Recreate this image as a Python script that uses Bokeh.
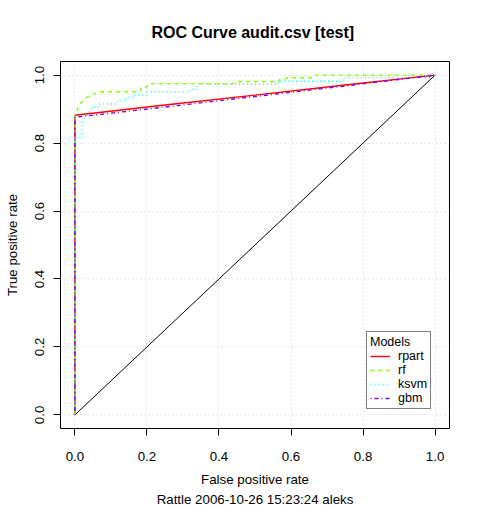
import math
from bokeh.plotting import figure
from bokeh.models import FixedTicker, PrintfTickFormatter, Legend, LegendItem, Range1d, Title
from bokeh.embed import file_html
from bokeh.resources import INLINE

title_text = "ROC Curve  audit.csv [test]"
x_label = "False positive rate"
sub_label = "Rattle 2006-10-26 15:23:24 aleks"
y_label = "True positive rate"
ticks = [0.0, 0.2, 0.4, 0.6, 0.8, 1.0]
models = ["rpart", "rf", "ksvm", "gbm"]

diag_x = [0.0, 1.0]
diag_y = [0.0, 1.0]

rpart_fpr = [0.0, 0.0, 0.25, 0.50, 0.75, 1.0]
rpart_tpr = [0.0, 0.882, 0.912, 0.941, 0.971, 1.0]

gbm_fpr = [0.0, 0.0, 0.25, 0.50, 0.75, 1.0]
gbm_tpr = [0.0, 0.876, 0.906, 0.937, 0.968, 1.0]

rf_fpr = [0.0, 0.0, 0.008, 0.018, 0.032, 0.045, 0.067, 0.180, 0.185, 0.200, 0.205,
          0.440, 0.445, 0.565, 0.570, 0.585, 0.590, 0.655, 0.660, 1.0]
rf_tpr = [0.0, 0.880, 0.900, 0.919, 0.934, 0.941, 0.951, 0.951, 0.965, 0.965, 0.975,
          0.975, 0.981, 0.981, 0.989, 0.989, 0.992, 0.992, 1.0, 1.0]

ksvm_fpr = [0.0, 0.0, 0.020, 0.020, 0.036, 0.048, 0.069, 0.069, 0.118, 0.118, 0.143,
            0.143, 0.162, 0.162, 0.200, 0.200, 0.320, 0.320, 0.340, 0.340, 0.565,
            0.565, 0.746, 0.746, 1.0, 1.0]
ksvm_tpr = [0.0, 0.816, 0.816, 0.862, 0.885, 0.906, 0.906, 0.915, 0.915, 0.925, 0.925,
            0.934, 0.934, 0.941, 0.941, 0.951, 0.951, 0.958, 0.958, 0.974, 0.974,
            0.982, 0.982, 0.992, 0.992, 1.0]

FONT = "Liberation Sans"

p = figure(width=480, height=506, output_backend="svg", toolbar_location=None,
           x_range=Range1d(-0.04, 1.04), y_range=Range1d(-0.04, 1.04),
           min_border_left=60, min_border_right=31, min_border_top=61,
           min_border_bottom=76)
p.background_fill_color = "white"
p.border_fill_color = "white"
p.outline_line_color = "black"
p.outline_line_width = 1
p.outline_line_alpha = 1.0

p.title.text = title_text
p.title.align = "center"
p.title.vertical_align = "middle"
p.title.text_font = FONT
p.title.text_font_size = "16px"
p.title.text_font_style = "bold"
p.title.text_color = "black"
p.title.standoff = 40

for ax in (p.xaxis[0], p.yaxis[0]):
    ax.ticker = FixedTicker(ticks=ticks)
    ax.formatter = PrintfTickFormatter(format="%.1f")
    ax.bounds = (0, 1)
    ax.major_tick_in = 0
    ax.major_tick_out = 7
    ax.minor_tick_line_color = None
    ax.axis_line_color = "black"
    ax.major_tick_line_color = "black"
    ax.major_label_text_font = FONT
    ax.major_label_text_font_size = "13.3px"
    ax.major_label_text_color = "black"
    ax.axis_label_text_font = FONT
    ax.axis_label_text_font_size = "13.3px"
    ax.axis_label_text_font_style = "normal"
    ax.axis_label_text_color = "black"

p.xaxis.axis_label = x_label
p.xaxis.major_label_standoff = 16
p.xaxis.axis_label_standoff = 8

p.yaxis.axis_label = y_label
p.yaxis.major_label_orientation = "parallel"
p.yaxis.major_label_standoff = 9
p.yaxis.axis_label_standoff = 13

sub = Title(text=sub_label, align="center", text_font=FONT, text_font_size="13.3px",
            text_font_style="normal", text_color="black", standoff=0)
p.add_layout(sub, "below")

for g in (p.xgrid[0], p.ygrid[0]):
    g.grid_line_color = "#D3D3D3"
    g.grid_line_dash = "1 3"
    g.grid_line_width = 1

p.line(diag_x, diag_y, line_color="black", line_width=1)

r1 = p.line(rpart_fpr, rpart_tpr, line_color="#FF0000", line_width=1.4)
r2 = p.line(rf_fpr, rf_tpr, line_color="#80FF00", line_width=1.4, line_dash="4 4")
r3 = p.line(ksvm_fpr, ksvm_tpr, line_color="#00FFFF", line_width=1.4, line_dash="1 3")
r4 = p.line(gbm_fpr, gbm_tpr, line_color="#8000FF", line_width=1.4, line_dash="1 3 4 3")

legend = Legend(items=[LegendItem(label=m, renderers=[r]) for m, r in zip(models, [r1, r2, r3, r4])],
                location=(306, 19), title="Models", margin=0, padding=3,
                spacing=0, label_height=12, glyph_height=12, glyph_width=20,
                label_standoff=8, title_standoff=0)
legend.label_text_font = FONT
legend.label_text_font_size = "12.5px"
legend.label_text_color = "black"
legend.title_text_font = FONT
legend.title_text_font_size = "12.5px"
legend.title_text_font_style = "normal"
legend.title_text_color = "black"
legend.border_line_color = "black"
legend.border_line_width = 1
legend.background_fill_color = "white"
legend.background_fill_alpha = 1.0
p.add_layout(legend)

open("out.html", "w").write(file_html(p, INLINE))
